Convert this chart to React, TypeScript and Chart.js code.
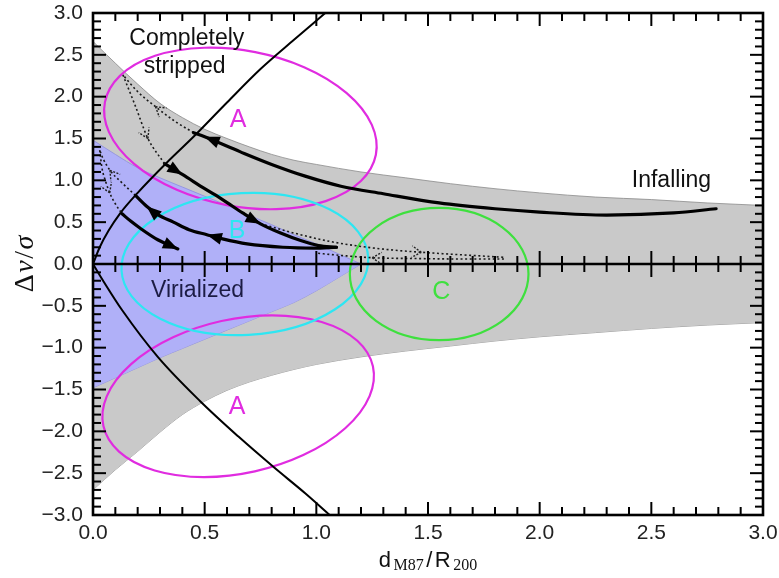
import React, { useEffect, useRef } from 'react';
import { Chart, registerables } from 'chart.js';

Chart.register(...registerables);

const SANS = "'Liberation Sans', Arial, Helvetica, sans-serif";
const SERIF = "'Liberation Serif', 'Times New Roman', serif";

// Axis ranges and tick labels
const xTickValues = [0, 0.5, 1, 1.5, 2, 2.5, 3];
const yTickValues = [-3, -2.5, -2, -1.5, -1, -0.5, 0, 0.5, 1, 1.5, 2, 2.5, 3];

// Grey envelope (caustic) boundaries
const envX = [0, 0.1, 0.2, 0.3, 0.4, 0.5, 0.6, 0.7, 0.8, 0.9, 1.0, 1.2, 1.4, 1.6, 1.8, 2.0, 2.25, 2.5, 2.75, 3.0];
const envUpper = [2.66, 2.40, 2.15, 1.92, 1.75, 1.61, 1.50, 1.40, 1.31, 1.24, 1.19, 1.10, 1.03, 0.96, 0.90, 0.85, 0.80, 0.77, 0.73, 0.70];
const envLower = [-2.70, -2.46, -2.24, -2.01, -1.80, -1.64, -1.51, -1.41, -1.33, -1.26, -1.20, -1.11, -1.04, -0.98, -0.92, -0.87, -0.82, -0.77, -0.73, -0.70];

// Virialized region
const virX = [0, 0.1, 0.2, 0.3, 0.4, 0.5, 0.6, 0.7, 0.8, 0.9, 1.0, 1.1, 1.2];
const virUpper = [1.48, 1.31, 1.15, 1.03, 0.92, 0.81, 0.70, 0.58, 0.47, 0.35, 0.24, 0.12, 0.0];
const virLower = [-1.48, -1.36, -1.24, -1.12, -1.01, -0.90, -0.79, -0.68, -0.57, -0.46, -0.32, -0.16, 0.0];

// Escape-velocity style curves through the origin
const escUpX = [0, 0.03, 0.07, 0.12, 0.2, 0.33, 0.45, 0.6, 0.75, 0.9, 1.04];
const escUpY = [0, 0.2, 0.4, 0.6, 0.85, 1.21, 1.52, 1.93, 2.33, 2.68, 3.0];
const escLoX = [0, 0.05, 0.13, 0.29, 0.48, 0.65, 0.81, 0.95, 1.06];
const escLoY = [0, -0.22, -0.55, -1.11, -1.64, -2.06, -2.43, -2.74, -3.0];

// Orbit tracks (solid = thick, dotted = alternative branches)
const t1X = [2.79, 2.6, 2.3, 2.0, 1.8, 1.55, 1.3, 1.11, 0.95, 0.8, 0.66, 0.5, 0.45];
const t1Y = [0.66, 0.61, 0.585, 0.62, 0.66, 0.73, 0.84, 0.93, 1.05, 1.19, 1.34, 1.52, 1.57];
const t2X = [0.45, 0.37, 0.28, 0.2, 0.134];
const t2Y = [1.57, 1.70, 1.88, 2.06, 2.26];
const t3X = [0.134, 0.188, 0.246, 0.32];
const t3Y = [2.26, 1.90, 1.50, 1.2];
const t4X = [0.32, 0.40, 0.5, 0.58, 0.67, 0.75, 0.84, 0.93, 1.01, 1.09];
const t4Y = [1.2, 1.07, 0.90, 0.77, 0.61, 0.48, 0.37, 0.28, 0.22, 0.2];
const t5X = [1.09, 0.99, 0.85, 0.69, 0.58, 0.51, 0.43, 0.36, 0.29, 0.24, 0.19];
const t5Y = [0.2, 0.19, 0.2, 0.24, 0.3, 0.35, 0.41, 0.5, 0.59, 0.69, 0.82];
const t6X = [0.19, 0.13, 0.076, 0.045, 0.03];
const t6Y = [0.82, 0.97, 1.12, 1.26, 1.36];
const t7X = [0.03, 0.04, 0.055, 0.075, 0.10, 0.13];
const t7Y = [1.36, 1.15, 1.0, 0.85, 0.72, 0.6];
const t8X = [0.13, 0.17, 0.21, 0.29, 0.38];
const t8Y = [0.6, 0.51, 0.43, 0.29, 0.18];
const t9X = [0.75, 0.9, 1.06, 1.2, 1.33, 1.47, 1.65, 1.84];
const t9Y = [0.48, 0.37, 0.27, 0.21, 0.17, 0.14, 0.11, 0.08];
const t10X = [1.84, 1.65, 1.45, 1.25, 1.12, 1.0];
const t10Y = [0.06, 0.06, 0.065, 0.075, 0.1, 0.13];

// Region ellipses: centre, half-axes (data units) and tilt (degrees)
const ellCx = [0.66, 0.65, 0.68, 1.55];
const ellCy = [1.62, -1.58, 0.0, -0.12];
const ellRx = [0.618, 0.618, 0.553, 0.40];
const ellRy = [0.93, 0.92, 0.848, 0.79];
const ellTilt = [11, -12.5, -3, 0];
const ellColor = ['#e02ce0', '#e02ce0', '#2ee6f2', '#3ee03e'];

// Region labels (baseline positions in data units)
const labelText = ['Completely', 'stripped', 'A', 'B', 'C', 'A', 'Infalling', 'Virialized'];
const labelX = [0.42, 0.41, 0.65, 0.645, 1.56, 0.645, 2.59, 0.468];
const labelY = [2.62, 2.28, 1.64, 0.31, -0.42, -1.79, 0.92, -0.39];
const labelColor = ['#111', '#111', '#e02ce0', '#2ee6f2', '#3ee03e', '#e02ce0', '#111', '#1c1c44'];
const labelSize = [23, 23, 25, 25, 25, 25, 23, 23];

const pts = (xs: number[], ys: number[]) => xs.map((x, i) => ({ x, y: ys[i] }));

const fmt = (v: number) => {
  const s = Math.abs(v).toFixed(1);
  return v < -1e-9 ? '\u2212' + s : s;
};

type Track = { xs: number[]; ys: number[]; solid: boolean; arrows: number[] };
const tracks: Track[] = [
  { xs: t1X, ys: t1Y, solid: true, arrows: [11] },
  { xs: t2X, ys: t2Y, solid: false, arrows: [2] },
  { xs: t3X, ys: t3Y, solid: false, arrows: [2] },
  { xs: t4X, ys: t4Y, solid: true, arrows: [1, 5] },
  { xs: t5X, ys: t5Y, solid: true, arrows: [5, 9] },
  { xs: t6X, ys: t6Y, solid: false, arrows: [2] },
  { xs: t7X, ys: t7Y, solid: false, arrows: [3] },
  { xs: t8X, ys: t8Y, solid: true, arrows: [4] },
  { xs: t9X, ys: t9Y, solid: false, arrows: [5] },
  { xs: t10X, ys: t10Y, solid: false, arrows: [3] },
];

const VIR_INDEX = 2;
const TRACK_START = 6;

function line(ctx: CanvasRenderingContext2D, x1: number, y1: number, x2: number, y2: number) {
  ctx.beginPath();
  ctx.moveTo(x1, y1);
  ctx.lineTo(x2, y2);
  ctx.stroke();
}

const extras = {
  id: 'extras',
  afterDatasetDraw(chart: any, args: any) {
    if (args.index !== VIR_INDEX) return;
    const { ctx, chartArea } = chart;
    const xs = chart.scales.x;
    const ys = chart.scales.y;
    ctx.save();
    ctx.beginPath();
    ctx.rect(chartArea.left, chartArea.top, chartArea.right - chartArea.left, chartArea.bottom - chartArea.top);
    ctx.clip();
    ctx.lineWidth = 2.2;
    for (let i = 0; i < ellCx.length; i++) {
      const cx = xs.getPixelForValue(ellCx[i]);
      const cy = ys.getPixelForValue(ellCy[i]);
      const rx = Math.abs(xs.getPixelForValue(ellCx[i] + ellRx[i]) - cx);
      const ry = Math.abs(ys.getPixelForValue(ellCy[i] + ellRy[i]) - cy);
      ctx.strokeStyle = ellColor[i];
      ctx.beginPath();
      ctx.ellipse(cx, cy, rx, ry, (ellTilt[i] * Math.PI) / 180, 0, Math.PI * 2);
      ctx.stroke();
    }
    ctx.restore();
  },
  afterDatasetsDraw(chart: any) {
    const { ctx, chartArea } = chart;
    const { left, right, top, bottom } = chartArea;
    const xs = chart.scales.x;
    const ys = chart.scales.y;

    // arrowheads on the orbit tracks
    ctx.save();
    tracks.forEach((t, k) => {
      const meta = chart.getDatasetMeta(TRACK_START + k);
      t.arrows.forEach((idx) => {
        const el = meta.data[idx];
        const prev = meta.data[idx - 1];
        let dx = el.x - (el.cp1x ?? prev.x);
        let dy = el.y - (el.cp1y ?? prev.y);
        if (!isFinite(dx) || !isFinite(dy) || Math.hypot(dx, dy) < 0.5) {
          dx = el.x - prev.x;
          dy = el.y - prev.y;
        }
        const a = Math.atan2(dy, dx);
        if (t.solid) {
          const L = 15;
          const W = 6;
          const bx = el.x - L * Math.cos(a);
          const by = el.y - L * Math.sin(a);
          ctx.fillStyle = '#000';
          ctx.beginPath();
          ctx.moveTo(el.x, el.y);
          ctx.lineTo(bx - W * Math.sin(a), by + W * Math.cos(a));
          ctx.lineTo(bx + W * Math.sin(a), by - W * Math.cos(a));
          ctx.closePath();
          ctx.fill();
        } else {
          const L = 11;
          ctx.strokeStyle = '#222';
          ctx.lineWidth = 1.4;
          ctx.setLineDash([2, 1.5]);
          line(ctx, el.x, el.y, el.x - L * Math.cos(a - 0.55), el.y - L * Math.sin(a - 0.55));
          line(ctx, el.x, el.y, el.x - L * Math.cos(a + 0.55), el.y - L * Math.sin(a + 0.55));
          ctx.setLineDash([]);
        }
      });
    });
    ctx.restore();

    // region labels
    ctx.save();
    ctx.textAlign = 'center';
    ctx.textBaseline = 'alphabetic';
    labelText.forEach((txt, i) => {
      ctx.font = `${labelSize[i]}px ${SANS}`;
      ctx.fillStyle = labelColor[i];
      ctx.fillText(txt, xs.getPixelForValue(labelX[i]), ys.getPixelForValue(labelY[i]));
    });
    ctx.restore();

    // zero line, inward ticks and frame
    ctx.save();
    ctx.strokeStyle = '#000';
    const y0 = ys.getPixelForValue(0);
    ctx.lineWidth = 2.4;
    line(ctx, left, y0, right, y0);
    ctx.lineWidth = 2;
    for (let i = 0; i <= 30; i++) {
      const px = xs.getPixelForValue(i / 10);
      const len = i % 5 === 0 ? 13 : 8;
      line(ctx, px, bottom, px, bottom - len);
      line(ctx, px, top, px, top + len);
      if (i > 0 && i < 30) line(ctx, px, y0 - len, px, y0 + len);
    }
    for (let i = -30; i <= 30; i++) {
      const py = ys.getPixelForValue(i / 10);
      const len = i % 5 === 0 ? 13 : 8;
      line(ctx, left, py, left + len, py);
      line(ctx, right, py, right - len, py);
    }
    ctx.lineWidth = 2.6;
    ctx.strokeRect(left, top, right - left, bottom - top);
    ctx.restore();

    // axis titles
    ctx.save();
    ctx.fillStyle = '#111';
    ctx.textBaseline = 'alphabetic';
    ctx.textAlign = 'left';
    const yParts = [
      { t: '\u0394', f: `28px ${SERIF}`, dy: 0 },
      { t: 'v', f: `italic 28px ${SERIF}`, dy: 0 },
      { t: '/', f: `28px ${SERIF}`, dy: 0 },
      { t: '\u03c3', f: `italic 28px ${SERIF}`, dy: 0 },
    ];
    const measure = (parts: { t: string; f: string }[], gap: number) =>
      parts.reduce((s, p) => {
        ctx.font = p.f;
        return s + ctx.measureText(p.t).width + gap;
      }, -gap);
    ctx.translate(left - 60, (top + bottom) / 2);
    ctx.rotate(-Math.PI / 2);
    let cx = -measure(yParts, 1.5) / 2;
    yParts.forEach((p) => {
      ctx.font = p.f;
      ctx.fillText(p.t, cx, p.dy);
      cx += ctx.measureText(p.t).width + 1.5;
    });
    ctx.restore();

    ctx.save();
    ctx.fillStyle = '#111';
    ctx.textBaseline = 'alphabetic';
    ctx.textAlign = 'left';
    const xParts = [
      { t: 'd', f: `22px ${SANS}`, dy: 0 },
      { t: 'M87', f: `16px ${SERIF}`, dy: 3 },
      { t: '/', f: `22px ${SANS}`, dy: 0 },
      { t: 'R', f: `22px ${SANS}`, dy: 0 },
      { t: '200', f: `16px ${SERIF}`, dy: 3 },
    ];
    const wx = measure(xParts, 2.5);
    let px = (left + right) / 2 - wx / 2;
    const base = bottom + 52;
    xParts.forEach((p) => {
      ctx.font = p.f;
      ctx.fillText(p.t, px, base + p.dy);
      px += ctx.measureText(p.t).width + 2.5;
    });
    ctx.restore();
  },
};

export default function App() {
  const ref = useRef<HTMLCanvasElement | null>(null);

  useEffect(() => {
    if (!ref.current) return;
    const curve = (xs: number[], ys: number[], extra: any = {}) => ({
      data: pts(xs, ys),
      pointRadius: 0,
      pointHoverRadius: 0,
      fill: false,
      cubicInterpolationMode: 'monotone',
      ...extra,
    });

    const datasets: any[] = [
      curve(envX, envUpper, { fill: '+1', backgroundColor: 'rgb(201,201,201)', borderColor: '#8a8a8a', borderWidth: 0.8, order: 10 }),
      curve(envX, envLower, { borderColor: '#8a8a8a', borderWidth: 0.8, order: 10 }),
      curve(virX, virUpper, { fill: '+1', backgroundColor: 'rgb(176,176,248)', borderColor: '#8c8ce0', borderWidth: 0.8, order: 9 }),
      curve(virX, virLower, { borderColor: '#8c8ce0', borderWidth: 0.8, order: 9 }),
      curve(escUpX, escUpY, { borderColor: '#000', borderWidth: 2, order: 5 }),
      curve(escLoX, escLoY, { borderColor: '#000', borderWidth: 2, order: 5 }),
      ...tracks.map((t) =>
        curve(t.xs, t.ys, t.solid
          ? { borderColor: '#000', borderWidth: 3.2, borderCapStyle: 'round', order: 1 }
          : { borderColor: '#1a1a1a', borderWidth: 1.6, borderDash: [2, 2.6], order: 1 })
      ),
    ];

    const tickFont = { family: SANS, size: 21 };
    const chart = new Chart(ref.current, {
      type: 'line',
      data: { datasets },
      plugins: [extras],
      options: {
        responsive: false,
        animation: false,
        events: [],
        layout: { padding: { top: 13, right: 16, left: 0, bottom: 0 } },
        plugins: {
          legend: { display: false },
          tooltip: { enabled: false },
          filler: { propagate: false },
        },
        scales: {
          x: {
            type: 'linear',
            min: 0,
            max: 3,
            grid: { display: false, drawTicks: false },
            border: { display: false },
            afterBuildTicks: (s: any) => { s.ticks = xTickValues.map((value) => ({ value })); },
            ticks: { font: tickFont, color: '#222', padding: 6, maxRotation: 0, autoSkip: false, callback: (v: any) => fmt(Number(v)) },
            afterFit: (s: any) => { s.height = 63; s.paddingLeft = 0; s.paddingRight = 0; },
          },
          y: {
            type: 'linear',
            min: -3,
            max: 3,
            grid: { display: false, drawTicks: false },
            border: { display: false },
            afterBuildTicks: (s: any) => { s.ticks = yTickValues.map((value) => ({ value })); },
            ticks: { font: tickFont, color: '#222', padding: 10, autoSkip: false, callback: (v: any) => fmt(Number(v)) },
            afterFit: (s: any) => { s.width = 93; s.paddingTop = 0; s.paddingBottom = 0; },
          },
        },
      } as any,
    });
    return () => chart.destroy();
  }, []);

  return (
    <div style={{ position: 'absolute', left: 0, top: 0, width: 779, height: 578, background: '#fff' }}>
      <canvas ref={ref} width={779} height={578} />
    </div>
  );
}
